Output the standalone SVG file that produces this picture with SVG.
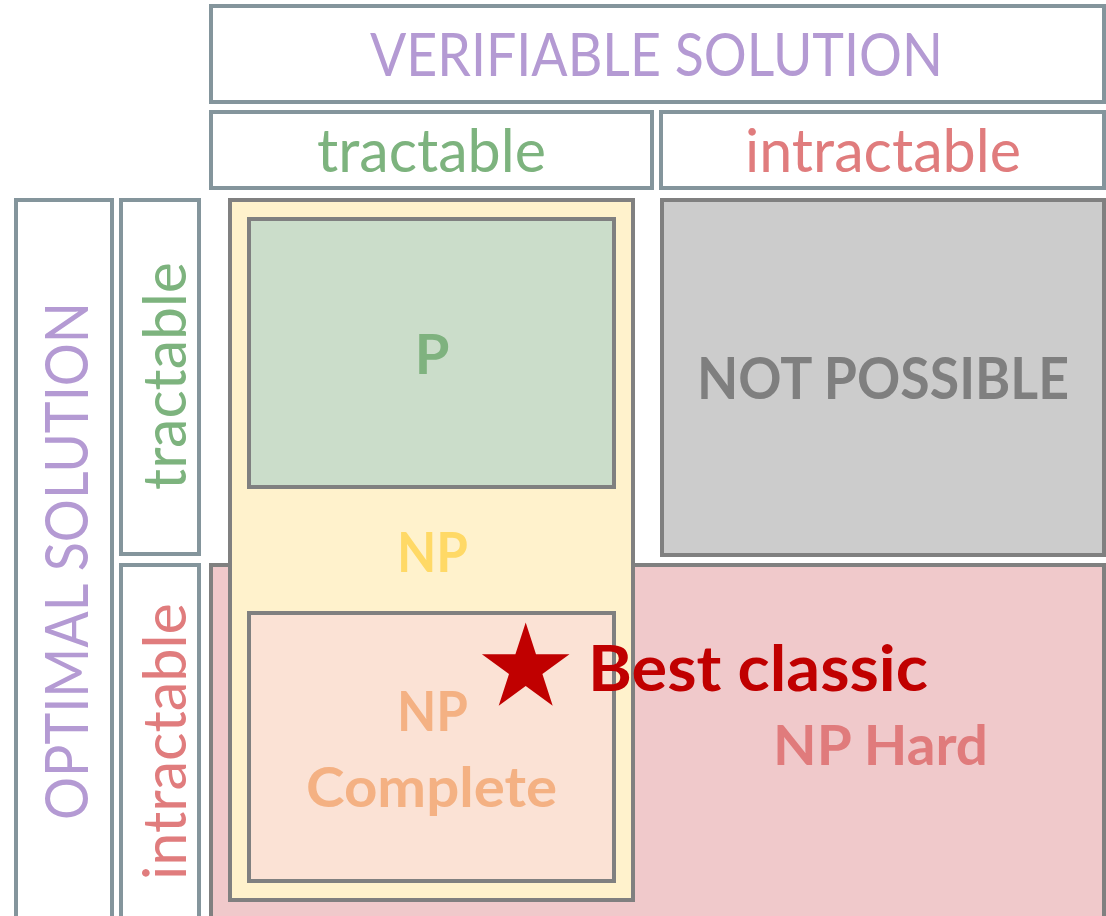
<svg xmlns="http://www.w3.org/2000/svg" width="1106" height="916" viewBox="0 0 1106 916">
  <style>
    .hdr { fill: #ffffff; stroke: #84959c; stroke-width: 4; }
    .cls { stroke: #808080; stroke-width: 4; }
    .lbl { font-family: Lato, "Open Sans", "Liberation Sans", sans-serif; text-anchor: middle; }
    .thin { font-weight: 400; }
    .bold { font-weight: 700; }
    .purple { fill: #b49ad3; }
    .green { fill: #7db37e; }
    .red { fill: #e07c7d; }
  </style>

  <rect width="1106" height="916" fill="#ffffff"/>

  <!-- column headers -->
  <g id="verifiable-header">
    <rect class="hdr" x="211" y="6" width="893" height="96"/>
    <text class="lbl thin purple" x="656.5" y="76" font-size="60" textLength="573" lengthAdjust="spacingAndGlyphs">VERIFIABLE SOLUTION</text>
  </g>
  <g id="verifiable-tractable">
    <rect class="hdr" x="211" y="112" width="441" height="76"/>
    <text class="lbl thin green" x="431.5" y="172" font-size="60" textLength="229" lengthAdjust="spacingAndGlyphs">tractable</text>
  </g>
  <g id="verifiable-intractable">
    <rect class="hdr" x="661" y="112" width="443" height="76"/>
    <text class="lbl thin red" x="883" y="172" font-size="60" textLength="276" lengthAdjust="spacingAndGlyphs">intractable</text>
  </g>

  <!-- row headers -->
  <g id="optimal-header">
    <rect class="hdr" x="16" y="200" width="96" height="740"/>
    <text class="lbl thin purple" transform="translate(88 561) rotate(-90)" x="0" y="0" font-size="60" textLength="518" lengthAdjust="spacingAndGlyphs">OPTIMAL SOLUTION</text>
  </g>
  <g id="optimal-tractable">
    <rect class="hdr" x="121" y="200" width="78" height="354"/>
    <text class="lbl thin green" transform="translate(186 376) rotate(-90)" x="0" y="0" font-size="60" textLength="228" lengthAdjust="spacingAndGlyphs">tractable</text>
  </g>
  <g id="optimal-intractable">
    <rect class="hdr" x="121" y="565" width="78" height="375"/>
    <text class="lbl thin red" transform="translate(186 741.5) rotate(-90)" x="0" y="0" font-size="60" textLength="277" lengthAdjust="spacingAndGlyphs">intractable</text>
  </g>

  <!-- complexity classes -->
  <g id="np-hard">
    <rect class="cls" x="211" y="565" width="893" height="375" fill="#f0c9cb"/>
    <text class="lbl bold" x="880.5" y="765" font-size="56" fill="#e07b7c" textLength="215" lengthAdjust="spacingAndGlyphs">NP Hard</text>
  </g>
  <g id="not-possible">
    <rect class="cls" x="662" y="200" width="442" height="355" fill="#cccccc"/>
    <text class="lbl bold" x="883" y="399" font-size="57" fill="#7f7f7f" textLength="372" lengthAdjust="spacingAndGlyphs">NOT POSSIBLE</text>
  </g>
  <g id="np">
    <rect class="cls" x="230" y="200" width="403" height="700" fill="#fff2cc"/>
    <text class="lbl bold" x="432.5" y="572" font-size="56" fill="#ffd966" textLength="71" lengthAdjust="spacingAndGlyphs">NP</text>
  </g>
  <g id="p">
    <rect class="cls" x="249" y="219" width="365" height="268" fill="#cbddca"/>
    <text class="lbl bold" x="432" y="374" font-size="56" fill="#7fb27f">P</text>
  </g>
  <g id="np-complete">
    <rect class="cls" x="249" y="613" width="365" height="268" fill="#fbe2d5"/>
    <text class="lbl bold" x="432.5" y="731" font-size="56" fill="#f4b183" textLength="71" lengthAdjust="spacingAndGlyphs">NP</text>
    <text class="lbl bold" x="431.5" y="807" font-size="56" fill="#f4b183" textLength="251" lengthAdjust="spacingAndGlyphs">Complete</text>
  </g>

  <!-- marker for the best classical approach -->
  <g id="best-classic">
    <polygon fill="#c00000" points="525.7,622.5 536.0,654.3 569.5,654.3 542.4,673.9 552.7,705.7 525.7,686.0 498.7,705.7 509.0,673.9 481.9,654.3 515.4,654.3"/>
    <text class="lbl bold" x="758" y="691" font-size="64" fill="#c00000" textLength="340" lengthAdjust="spacingAndGlyphs">Best classic</text>
  </g>
</svg>
